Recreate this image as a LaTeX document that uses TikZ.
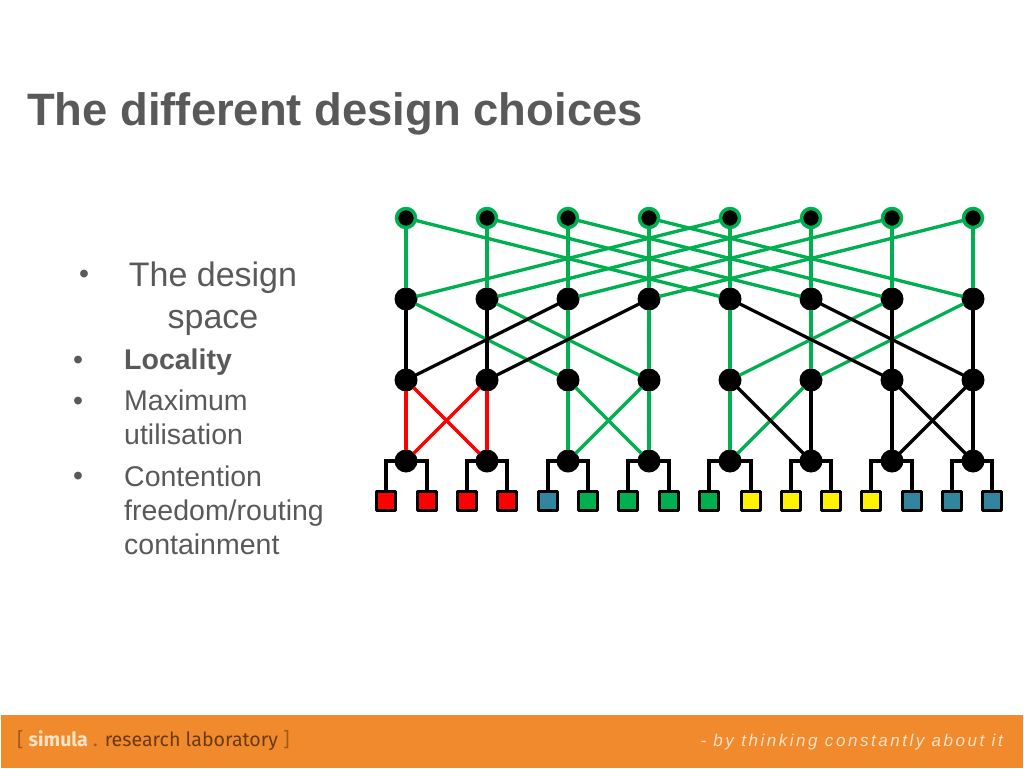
\documentclass[tikz,border=0pt]{standalone}
\usepackage{fontspec}
\setmainfont[Ligatures=NoCommon]{Liberation Sans}
\newfontfamily\simulafont{Fira Sans}
\newfontfamily\taglinefont[LetterSpace=15]{Liberation Sans}
\usepackage{xcolor}
\usetikzlibrary{arrows.meta}
\definecolor{slidegray}{HTML}{595959}
\definecolor{linkgreen}{HTML}{00B050}
\definecolor{hostteal}{HTML}{31859C}
\definecolor{footorange}{HTML}{F08A2D}
\definecolor{footbrown}{HTML}{6B3A10}
\definecolor{footcream}{HTML}{FBE3C8}
\tikzset{
sw/.style={circle,fill=black,inner sep=0pt,minimum size=23pt},
topsw/.style={circle,fill=black,draw=linkgreen,line width=3.5pt,inner sep=0pt,minimum size=19pt},
host/.style={rectangle,line join=round,draw=black,line width=2.8pt,inner sep=0pt,minimum size=19pt,fill=#1},
lnk/.style={line width=3.3pt,shorten <=-1pt,shorten >=-1pt,draw=#1},
item/.style={anchor=west,align=left,inner sep=0pt,text=slidegray,font=\fontsize{28.5}{34}\selectfont},
dot/.style={anchor=center,inner sep=0pt,text=slidegray,font=\fontsize{28.5}{34}\selectfont}
}
\begin{document}
\begin{tikzpicture}[x=1pt,y=-1pt]
\useasboundingbox(0,0)rectangle(1024,768);
\fill[footorange](1,715)rectangle(1023,768);
\node[anchor=base west,inner sep=0pt,text=slidegray,font=\fontsize{45.4}{50}\selectfont\bfseries](title)at(27,125){The different design choices};
\node[dot](b0)at(84,277){•};
\node[anchor=north,align=center,inner sep=0pt,text=slidegray,font=\fontsize{34}{42}\selectfont](space)at(213,262){The design\\space};
\node[dot](b1)at(78,363){•};
\node[item,font=\fontsize{28.5}{34}\selectfont\bfseries](loc)at(124,362){Locality};
\node[dot](b2)at(78,404){•};
\node[item](maxu)at(124,417){Maximum\\utilisation};
\node[dot](b3)at(78,479){•};
\node[item](cont)at(124,510){Contention\\freedom/routing\\containment};
\foreach \i/\x in {1/406,2/487,3/568,4/649,5/730,6/811,7/892,8/973}{
\node[topsw](t\i)at(\x,218){};
\node[sw](m\i)at(\x,299){};
\node[sw](n\i)at(\x,380){};
\node[sw](l\i)at(\x,461){};
}
\foreach \i/\x/\c in {1/386/red,2/427/red,3/467/red,4/507/red,5/548/hostteal,6/588/linkgreen,7/628/linkgreen,8/669/linkgreen,9/709/linkgreen,10/751/yellow,11/791/yellow,12/831/yellow,13/871/yellow,14/912/hostteal,15/952/hostteal,16/992/hostteal}
\node[host=\c](h\i)at(\x,501){};
\foreach \a/\b in {1/1,2/2,3/3,4/4,5/5,6/6,7/7,8/8,1/5,2/6,3/7,4/8,5/1,6/2,7/3,8/4}
\draw[lnk=linkgreen](t\a)--(m\b);
\foreach \a/\b in {1/3,2/4,3/3,4/4,5/5,6/6,7/5,8/6}
\draw[lnk=linkgreen](m\a)--(n\b);
\foreach \a/\b in {1/1,2/2,3/1,4/2,5/7,6/8,7/7,8/8}
\draw[lnk=black](m\a)--(n\b);
\foreach \a/\b in {1/1,1/2,2/1,2/2}
\draw[lnk=red](n\a)--(l\b);
\foreach \a/\b in {3/3,3/4,4/3,4/4,5/5,6/5}
\draw[lnk=linkgreen](n\a)--(l\b);
\foreach \a/\b in {5/6,6/6,7/7,7/8,8/7,8/8}
\draw[lnk=black](n\a)--(l\b);
\foreach \a/\p/\q in {1/1/2,2/3/4,3/5/6,4/7/8,5/9/10,6/11/12,7/13/14,8/15/16}{
\draw[lnk=black](l\a)-|(h\p);
\draw[lnk=black](l\a)-|(h\q);
}
\node[anchor=base west,font=\simulafont\fontsize{19.6}{22}\selectfont,inner sep=0pt](logo)at(17,746){\textcolor{footbrown!60!footorange}{[} \textcolor{footcream}{\bfseries simula} \textcolor{footbrown!60!footorange}{.} \textcolor{footbrown}{research laboratory} \textcolor{footbrown!60!footorange}{]}};
\node[anchor=base east,text=footcream,font=\taglinefont\itshape\fontsize{17}{20}\selectfont,inner sep=0pt](tagline)at(1003,746){- by thinking constantly about it};
\end{tikzpicture}
\end{document}
